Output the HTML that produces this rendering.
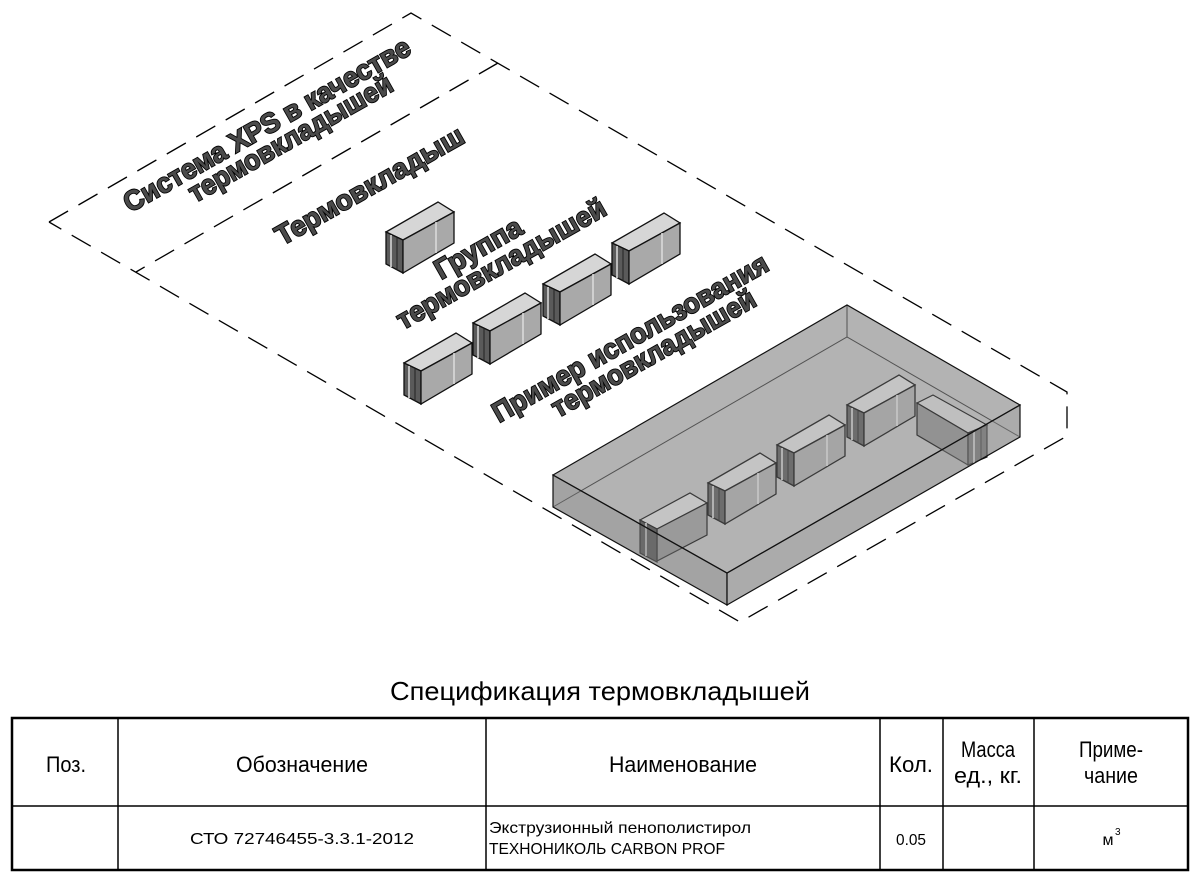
<!DOCTYPE html>
<html><head><meta charset="utf-8"><style>
html,body{margin:0;padding:0;background:#fff;}
svg{display:block;}
.lbl{font-family:"Liberation Sans",sans-serif;font-weight:bold;font-size:28px;fill:#4a4a4a;stroke:#000;stroke-width:1.8px;paint-order:stroke;}
.t{font-family:"Liberation Sans Narrow","Liberation Sans",sans-serif;fill:#000;}
</style></head><body>
<svg width="1200" height="883" viewBox="0 0 1200 883" xmlns="http://www.w3.org/2000/svg">
<defs>
<g id="blk">
  <polygon points="0,30 52,0 68,10 17,38" fill="#d6d6d6" stroke="#111" stroke-width="1.3"/>
  <polygon points="0,30 17,38 17,71 0,62" fill="#5a5a5a" stroke="#111" stroke-width="1.3"/>
  <line x1="5" y1="33" x2="5" y2="65" stroke="#bbb" stroke-width="2"/>
  <line x1="11" y1="36" x2="11" y2="68" stroke="#222" stroke-width="1"/>
  <polygon points="17,38 68,10 68,41 17,71" fill="#a9a9a9" stroke="#111" stroke-width="1.3"/>
  <line x1="50" y1="20" x2="50" y2="51" stroke="#ddd" stroke-width="1.5"/>
</g>
</defs>
<g fill="none" stroke="#000" stroke-width="1.3" stroke-dasharray="22,12">
  <polyline points="49,222 411,13 1067,392 1067,436 740,622 49,222"/>
  <line x1="498" y1="63" x2="136" y2="272"/>
</g>
<text class="lbl" transform="translate(130,213) rotate(-29.5)" textLength="325" lengthAdjust="spacingAndGlyphs">Система XPS в качестве</text>
<text class="lbl" transform="translate(195,203) rotate(-29.5)" textLength="230" lengthAdjust="spacingAndGlyphs">термовкладышей</text>
<text class="lbl" transform="translate(282,246) rotate(-29.5)" textLength="212" lengthAdjust="spacingAndGlyphs">Термовкладыш</text>
<text class="lbl" transform="translate(441,280) rotate(-29.5)" textLength="96" lengthAdjust="spacingAndGlyphs">Группа</text>
<text class="lbl" transform="translate(403,330) rotate(-29.5)" textLength="236" lengthAdjust="spacingAndGlyphs">термовкладышей</text>
<text class="lbl" transform="translate(499,423) rotate(-29.5)" textLength="312" lengthAdjust="spacingAndGlyphs">Пример использования</text>
<text class="lbl" transform="translate(558,418) rotate(-29.5)" textLength="230" lengthAdjust="spacingAndGlyphs">термовкладышей</text>
<use href="#blk" x="386" y="202"/>
<use href="#blk" x="404" y="333"/>
<use href="#blk" x="473" y="293"/>
<use href="#blk" x="543" y="254"/>
<use href="#blk" x="612" y="213"/>
<polygon points="553,475 847,305 1020,405 1020,437 727,605 553,507" fill="#bdbdbd"/>
<polyline points="553,507 847,337 1020,437" fill="none" stroke="#333" stroke-width="1"/>
<line x1="847" y1="305" x2="847" y2="337" stroke="#333" stroke-width="1"/>
<use href="#blk" x="708" y="453"/>
<use href="#blk" x="777" y="415"/>
<use href="#blk" x="847" y="375"/>
<polygon points="917,403 933,395 987,425 968,433" fill="#cfcfcf" stroke="#111" stroke-width="1.2"/>
<polygon points="917,403 968,433 968,465 917,435" fill="#8e8e8e" stroke="#111" stroke-width="1.2"/>
<polygon points="968,433 987,425 987,457 968,465" fill="#6a6a6a" stroke="#111" stroke-width="1.2"/>
<line x1="974" y1="431" x2="974" y2="463" stroke="#ccc" stroke-width="2"/>
<line x1="981" y1="428" x2="981" y2="460" stroke="#222" stroke-width="1"/>
<polygon points="640,520 690,493 707,503 657,529" fill="#d6d6d6" stroke="#111" stroke-width="1.2"/>
<polygon points="657,529 707,503 707,535 657,561" fill="#9a9a9a" stroke="#111" stroke-width="1.2"/>
<polygon points="640,520 657,529 657,562 640,553" fill="#4a4a4a" stroke="#111" stroke-width="1.2"/>
<line x1="646" y1="523" x2="646" y2="556" stroke="#bbb" stroke-width="2"/>
<polygon points="553,475 727,573 727,605 553,507" fill="#8a8a8a" fill-opacity="0.5" stroke="#111" stroke-width="1.2"/>
<polygon points="727,573 1020,405 1020,437 727,605" fill="#9a9a9a" fill-opacity="0.5" stroke="#111" stroke-width="1.2"/>
<polygon points="553,475 847,305 1020,405 727,573" fill="#9c9c9c" fill-opacity="0.3" stroke="#111" stroke-width="1.2"/>
<text class="t" x="600" y="700" font-size="26" text-anchor="middle" textLength="420" lengthAdjust="spacingAndGlyphs">Спецификация термовкладышей</text>
<g stroke="#000" fill="none">
  <rect x="12" y="718" width="1176" height="152" stroke-width="2.5"/>
  <line x1="12" y1="806" x2="1188" y2="806" stroke-width="1.5"/>
  <line x1="118" y1="718" x2="118" y2="870" stroke-width="1.5"/>
  <line x1="486" y1="718" x2="486" y2="870" stroke-width="1.5"/>
  <line x1="880" y1="718" x2="880" y2="870" stroke-width="1.5"/>
  <line x1="943" y1="718" x2="943" y2="870" stroke-width="1.5"/>
  <line x1="1034" y1="718" x2="1034" y2="870" stroke-width="1.5"/>
</g>
<g class="t" font-size="22" text-anchor="middle">
  <text x="66" y="772" textLength="40" lengthAdjust="spacingAndGlyphs">Поз.</text>
  <text x="302" y="772" textLength="132" lengthAdjust="spacingAndGlyphs">Обозначение</text>
  <text x="683" y="772" textLength="148" lengthAdjust="spacingAndGlyphs">Наименование</text>
  <text x="911" y="772" textLength="44" lengthAdjust="spacingAndGlyphs">Кол.</text>
  <text x="988" y="757" textLength="54" lengthAdjust="spacingAndGlyphs">Масса</text>
  <text x="988" y="783" textLength="68" lengthAdjust="spacingAndGlyphs">ед., кг.</text>
  <text x="1111" y="757" textLength="64" lengthAdjust="spacingAndGlyphs">Приме-</text>
  <text x="1111" y="783" textLength="54" lengthAdjust="spacingAndGlyphs">чание</text>
</g>
<g class="t" font-size="16">
  <text x="302" y="844" text-anchor="middle" textLength="224" lengthAdjust="spacingAndGlyphs">СТО 72746455-3.3.1-2012</text>
  <text x="489" y="833" textLength="262" lengthAdjust="spacingAndGlyphs">Экструзионный пенополистирол</text>
  <text x="489" y="854" textLength="236" lengthAdjust="spacingAndGlyphs">ТЕХНОНИКОЛЬ CARBON PROF</text>
  <text x="911" y="845" text-anchor="middle" textLength="30" lengthAdjust="spacingAndGlyphs">0.05</text>
  <text x="1108" y="845" text-anchor="middle">м</text>
  <text x="1115" y="835" font-size="10">3</text>
</g>
</svg>
</body></html>
